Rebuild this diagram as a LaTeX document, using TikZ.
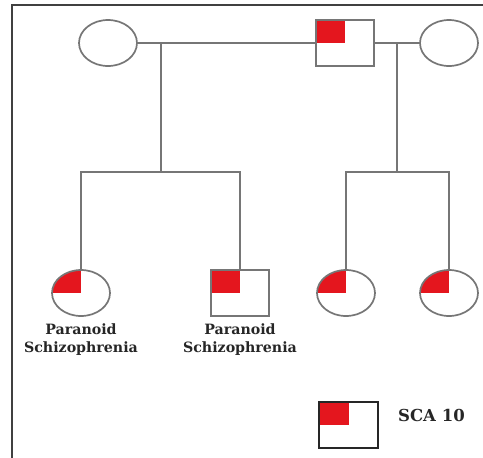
\documentclass[tikz,border=0pt]{standalone}
\usepackage{fontspec}
\setmainfont{DejaVu Serif}
\usetikzlibrary{shapes.geometric,positioning}
\definecolor{scared}{RGB}{228,22,30}
\definecolor{pedgrey}{RGB}{118,118,118}
\tikzset{
  person/.style={draw=pedgrey,line width=1.7pt,inner sep=0pt,
    minimum width=58pt,minimum height=46pt},
  female/.style={person,ellipse},
  male/.style={person,rectangle},
  affected/.style={path picture={\fill[scared] (path picture bounding box.center)
    rectangle (path picture bounding box.north west);}},
  link/.style={draw=pedgrey,line width=1.7pt},
  diagnosis/.style={align=center,inner sep=0pt,text=black!85,
    font=\bfseries\fontsize{14.2}{18}\selectfont}
}
\begin{document}
\begin{tikzpicture}[x=1pt,y=-1pt]
  \useasboundingbox (0,0) rectangle (483,458);
  \draw[black!75,line width=2pt] (12,458) -- (12,5) -- (483,5);
  % parents
  \node[female] (mother1) at (108,43) {};
  \node[male,affected] (father) at (345,43) {};
  \node[female] (mother2) at (449,43) {};
  % children
  \node[female,affected] (child1) at (81,293) {};
  \node[male,affected] (child2) at (240,293) {};
  \node[female,affected] (child3) at (346,293) {};
  \node[female,affected] (child4) at (449,293) {};
  \node[diagnosis,below=7pt of child1] (dx1) {Paranoid\\Schizophrenia};
  \node[diagnosis,below=7pt of child2] (dx2) {Paranoid\\Schizophrenia};
  % matings and sibships
  \coordinate (mate1) at (161,43);
  \coordinate (mate2) at (397,43);
  \coordinate (sib1) at (161,172);
  \coordinate (sib2) at (397,172);
  \draw[link] (mother1) -- (father);
  \draw[link] (father) -- (mother2);
  \draw[link] (mate1) -- (sib1);
  \draw[link] (mate2) -- (sib2);
  \draw[link] (child1.north) |- (sib1) -| (child2.north);
  \draw[link] (child3.north) |- (sib2) -| (child4.north);
  % legend
  \node[male,affected,draw=black!85,minimum width=59pt] (key) at (348.5,425) {};
  \node[diagnosis,anchor=west,font=\bfseries\fontsize{16.5}{18}\selectfont] (keytext) at (398,415) {SCA 10};
\end{tikzpicture}
\end{document}
